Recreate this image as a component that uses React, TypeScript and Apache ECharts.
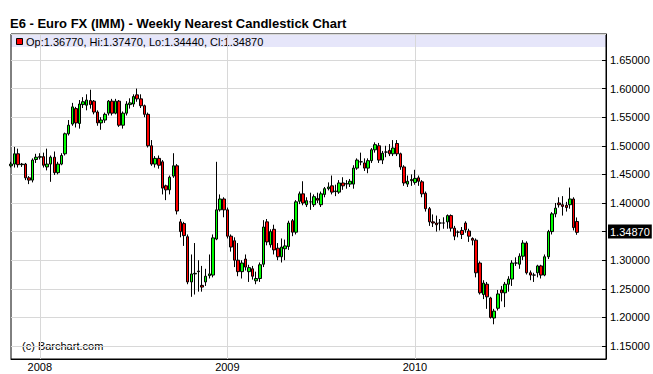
import { useEffect, useRef } from "react";
import * as echarts from "echarts";

const FONT = "'Liberation Sans', Arial, sans-serif";

// Weekly categories: week starting 2007-11-12, 158 candles + empty padding weeks on the right
const START_WEEK = Date.UTC(2007, 10, 12);
const TOTAL_WEEKS = 166;
const weeks: string[] = [];
for (let i = 0; i < TOTAL_WEEKS; i++) {
  weeks.push(new Date(START_WEEK + i * 7 * 86400000).toISOString().slice(0, 10));
}

const opens = [
  1.465, 1.468, 1.486, 1.467, 1.468, 1.444, 1.44, 1.476, 1.48, 1.481,
  1.463, 1.468, 1.48, 1.453, 1.468, 1.486, 1.521, 1.538, 1.565, 1.539,
  1.572, 1.571, 1.579, 1.578, 1.559, 1.54, 1.545, 1.557, 1.578, 1.557,
  1.578, 1.536, 1.557, 1.572, 1.573, 1.589, 1.582, 1.57, 1.555, 1.5,
  1.468, 1.478, 1.472, 1.43, 1.423, 1.447, 1.465, 1.367, 1.364, 1.341,
  1.262, 1.276, 1.281, 1.256, 1.262, 1.273, 1.274, 1.337, 1.388, 1.407,
  1.388, 1.342, 1.334, 1.3, 1.28, 1.302, 1.28, 1.285, 1.264, 1.268,
  1.293, 1.367, 1.327, 1.354, 1.321, 1.306, 1.32, 1.324, 1.369, 1.349,
  1.403, 1.416, 1.397, 1.402, 1.397, 1.408, 1.397, 1.415, 1.425, 1.43,
  1.42, 1.419, 1.435, 1.433, 1.433, 1.433, 1.461, 1.472, 1.47, 1.461,
  1.474, 1.493, 1.5, 1.475, 1.489, 1.492, 1.486, 1.504, 1.486, 1.463,
  1.433, 1.441, 1.436, 1.444, 1.437, 1.417, 1.39, 1.367, 1.365, 1.365,
  1.365, 1.367, 1.378, 1.356, 1.349, 1.352, 1.365, 1.351, 1.338, 1.335,
  1.295, 1.24, 1.258, 1.234, 1.199, 1.216, 1.248, 1.243, 1.258, 1.267,
  1.295, 1.293, 1.307, 1.33, 1.278, 1.274, 1.278, 1.29, 1.274, 1.306,
  1.35, 1.381, 1.4, 1.397, 1.396, 1.397, 1.407, 1.3677,
];
const highs = [
  1.472, 1.498, 1.495, 1.47, 1.47, 1.447, 1.478, 1.486, 1.487, 1.488,
  1.495, 1.483, 1.49, 1.472, 1.487, 1.523, 1.545, 1.575, 1.568, 1.58,
  1.585, 1.59, 1.598, 1.58, 1.562, 1.55, 1.558, 1.58, 1.582, 1.582,
  1.58, 1.56, 1.578, 1.583, 1.59, 1.6, 1.59, 1.572, 1.558, 1.51,
  1.482, 1.483, 1.475, 1.432, 1.448, 1.487, 1.468, 1.372, 1.367, 1.345,
  1.31, 1.33, 1.3, 1.29, 1.285, 1.31, 1.345, 1.472, 1.415, 1.41,
  1.392, 1.345, 1.34, 1.33, 1.3, 1.31, 1.292, 1.29, 1.28, 1.296,
  1.37, 1.372, 1.354, 1.362, 1.33, 1.338, 1.336, 1.369, 1.372, 1.405,
  1.42, 1.438, 1.41, 1.418, 1.415, 1.418, 1.42, 1.428, 1.436, 1.448,
  1.432, 1.44, 1.445, 1.44, 1.442, 1.466, 1.478, 1.488, 1.478, 1.478,
  1.496, 1.506, 1.505, 1.491, 1.5, 1.503, 1.51, 1.51, 1.488, 1.466,
  1.448, 1.45, 1.458, 1.448, 1.44, 1.42, 1.393, 1.38, 1.378, 1.372,
  1.375, 1.38, 1.38, 1.36, 1.352, 1.358, 1.368, 1.355, 1.34, 1.338,
  1.298, 1.265, 1.262, 1.236, 1.215, 1.248, 1.255, 1.262, 1.272, 1.3,
  1.305, 1.312, 1.335, 1.333, 1.282, 1.278, 1.292, 1.292, 1.31, 1.353,
  1.384, 1.4, 1.41, 1.412, 1.402, 1.427, 1.41, 1.3747,
];
const lows = [
  1.462, 1.462, 1.462, 1.463, 1.44, 1.433, 1.436, 1.47, 1.476, 1.462,
  1.457, 1.437, 1.449, 1.45, 1.466, 1.483, 1.518, 1.535, 1.532, 1.53,
  1.566, 1.562, 1.565, 1.555, 1.535, 1.528, 1.54, 1.553, 1.553, 1.555,
  1.533, 1.53, 1.553, 1.565, 1.568, 1.577, 1.566, 1.55, 1.497, 1.465,
  1.462, 1.46, 1.415, 1.405, 1.415, 1.444, 1.38, 1.34, 1.325, 1.258,
  1.236, 1.24, 1.245, 1.245, 1.255, 1.268, 1.27, 1.335, 1.385, 1.375,
  1.338, 1.315, 1.288, 1.272, 1.268, 1.282, 1.262, 1.266, 1.258, 1.262,
  1.288, 1.326, 1.322, 1.31, 1.3, 1.296, 1.3, 1.318, 1.342, 1.345,
  1.398, 1.396, 1.393, 1.388, 1.393, 1.4, 1.393, 1.41, 1.422, 1.415,
  1.412, 1.416, 1.423, 1.425, 1.428, 1.425, 1.458, 1.466, 1.456, 1.452,
  1.47, 1.488, 1.47, 1.468, 1.48, 1.482, 1.482, 1.482, 1.458, 1.43,
  1.428, 1.43, 1.432, 1.43, 1.41, 1.385, 1.36, 1.358, 1.35, 1.352,
  1.355, 1.355, 1.35, 1.335, 1.34, 1.337, 1.348, 1.332, 1.326, 1.27,
  1.24, 1.232, 1.215, 1.198, 1.188, 1.212, 1.228, 1.218, 1.245, 1.255,
  1.29, 1.285, 1.3, 1.275, 1.265, 1.262, 1.27, 1.268, 1.272, 1.302,
  1.345, 1.375, 1.392, 1.378, 1.385, 1.39, 1.352, 1.3444,
];
const closes = [
  1.468, 1.486, 1.467, 1.468, 1.444, 1.44, 1.475, 1.48, 1.481, 1.466,
  1.468, 1.48, 1.453, 1.468, 1.483, 1.521, 1.536, 1.568, 1.54, 1.573,
  1.577, 1.58, 1.572, 1.559, 1.54, 1.545, 1.555, 1.578, 1.557, 1.578,
  1.536, 1.557, 1.573, 1.575, 1.586, 1.582, 1.57, 1.555, 1.5, 1.468,
  1.478, 1.466, 1.426, 1.423, 1.445, 1.465, 1.386, 1.35, 1.343, 1.262,
  1.276, 1.277, 1.28, 1.253, 1.272, 1.276, 1.339, 1.388, 1.407, 1.388,
  1.342, 1.323, 1.3, 1.28, 1.295, 1.288, 1.287, 1.272, 1.268, 1.292,
  1.358, 1.332, 1.35, 1.318, 1.306, 1.323, 1.325, 1.365, 1.349, 1.402,
  1.416, 1.4, 1.404, 1.402, 1.411, 1.405, 1.416, 1.425, 1.428, 1.419,
  1.421, 1.435, 1.43, 1.434, 1.438, 1.461, 1.475, 1.472, 1.461, 1.474,
  1.493, 1.502, 1.475, 1.487, 1.489, 1.486, 1.496, 1.486, 1.463, 1.435,
  1.438, 1.439, 1.443, 1.438, 1.416, 1.39, 1.367, 1.365, 1.362, 1.365,
  1.365, 1.378, 1.356, 1.342, 1.349, 1.345, 1.353, 1.342, 1.335, 1.278,
  1.243, 1.26, 1.236, 1.2, 1.211, 1.241, 1.243, 1.258, 1.267, 1.295,
  1.295, 1.307, 1.33, 1.278, 1.274, 1.274, 1.29, 1.274, 1.306, 1.35,
  1.381, 1.391, 1.397, 1.394, 1.392, 1.407, 1.357, 1.3487,
];

const TITLE = "E6 - Euro FX (IMM) - Weekly Nearest Candlestick Chart";
const WATERMARK = "(c) Barchart.com";

const last = opens.length - 1;
const legendText =
  "Op:" + opens[last].toFixed(5) +
  ", Hi:" + highs[last].toFixed(5) +
  ", Lo:" + lows[last].toFixed(5) +
  ", Cl:" + closes[last].toFixed(5);

const isYearStart = (i: number) => {
  if (i > last) return false;
  const d = weeks[i];
  if (!d) return false;
  return d.slice(5, 7) === "01" && Number(d.slice(8, 10)) <= 7;
};

export default function App() {
  const ref = useRef<HTMLDivElement>(null);
  useEffect(() => {
    if (!ref.current) return;
    const chart = echarts.init(ref.current, null, { renderer: "svg" });
    const candles = opens.map((o, i) => [o, closes[i], lows[i], highs[i]]);
    chart.setOption({
      animation: false,
      backgroundColor: "#fff",
      textStyle: { fontFamily: FONT },
      grid: {
        left: 11,
        right: 47,
        top: 34,
        bottom: 15,
        show: true,
        borderColor: "#000",
        borderWidth: 1,
      },
      xAxis: {
        type: "category",
        data: weeks,
        boundaryGap: false,
        axisLine: { lineStyle: { color: "#000", width: 1 } },
        axisTick: { show: false },
        axisLabel: {
          interval: (i: number) => isYearStart(i),
          formatter: (v: string) => v.slice(0, 4),
          color: "#000",
          fontSize: 11,
          fontFamily: FONT,
          margin: 2,
        },
        splitLine: {
          show: true,
          interval: (i: number) => isYearStart(i),
          lineStyle: { color: "#d8d8d8", width: 1 },
        },
      },
      yAxis: {
        type: "value",
        position: "right",
        min: 1.1273,
        max: 1.6954,
        minInterval: 0.05,
        maxInterval: 0.05,
        splitNumber: 11,
        axisLine: { show: true, lineStyle: { color: "#000" } },
        axisTick: { show: true, inside: true, length: 4, lineStyle: { color: "#000" } },
        axisLabel: {
          formatter: (v: number) => v.toFixed(5),
          showMinLabel: false,
          showMaxLabel: false,
          color: "#000",
          fontSize: 11,
          fontFamily: FONT,
          margin: 4,
        },
        splitLine: { show: true, lineStyle: { color: "#d8d8d8", width: 1 } },
      },
      graphic: [
        {
          type: "rect",
          z: -1,
          shape: { x: 11, y: 34, width: 595, height: 13 },
          style: { fill: "#e6e6fa" },
        },
        {
          type: "rect",
          shape: { x: 16.5, y: 38.5, width: 6, height: 6 },
          style: { fill: "#ff0000", stroke: "#000", lineWidth: 1 },
        },
        {
          type: "text",
          x: 26,
          y: 42,
          style: {
            text: legendText,
            fill: "#000",
            font: "11px " + FONT,
            verticalAlign: "middle",
          },
        },
        {
          type: "text",
          x: 10,
          y: 23,
          style: {
            text: TITLE,
            fill: "#000",
            font: "bold 13px " + FONT,
            verticalAlign: "middle",
          },
        },
        {
          type: "text",
          x: 22,
          y: 346,
          style: {
            text: WATERMARK,
            fill: "#000",
            font: "11px " + FONT,
            verticalAlign: "middle",
          },
        },
      ],
      series: [
        {
          type: "candlestick",
          data: candles,
          barWidth: 3,
          itemStyle: {
            color: "#00ff00",
            color0: "#ff0000",
            borderColor: "#000",
            borderColor0: "#000",
            borderWidth: 1,
          },
          markLine: {
            silent: true,
            symbol: ["none", "none"],
            lineStyle: { color: "rgba(0,0,0,0)", width: 0 },
            data: [{ yAxis: closes[last] }],
            label: {
              show: true,
              position: "end",
              formatter: () => closes[last].toFixed(5),
              color: "#fff",
              backgroundColor: "#000",
              padding: [2, 2, 1, 2],
              fontSize: 11,
              fontFamily: FONT,
              distance: 2,
            },
          },
        },
      ],
    });
    return () => chart.dispose();
  }, []);
  return (
    <div
      ref={ref}
      style={{ position: "absolute", left: 0, top: 0, width: 653, height: 374 }}
    />
  );
}
